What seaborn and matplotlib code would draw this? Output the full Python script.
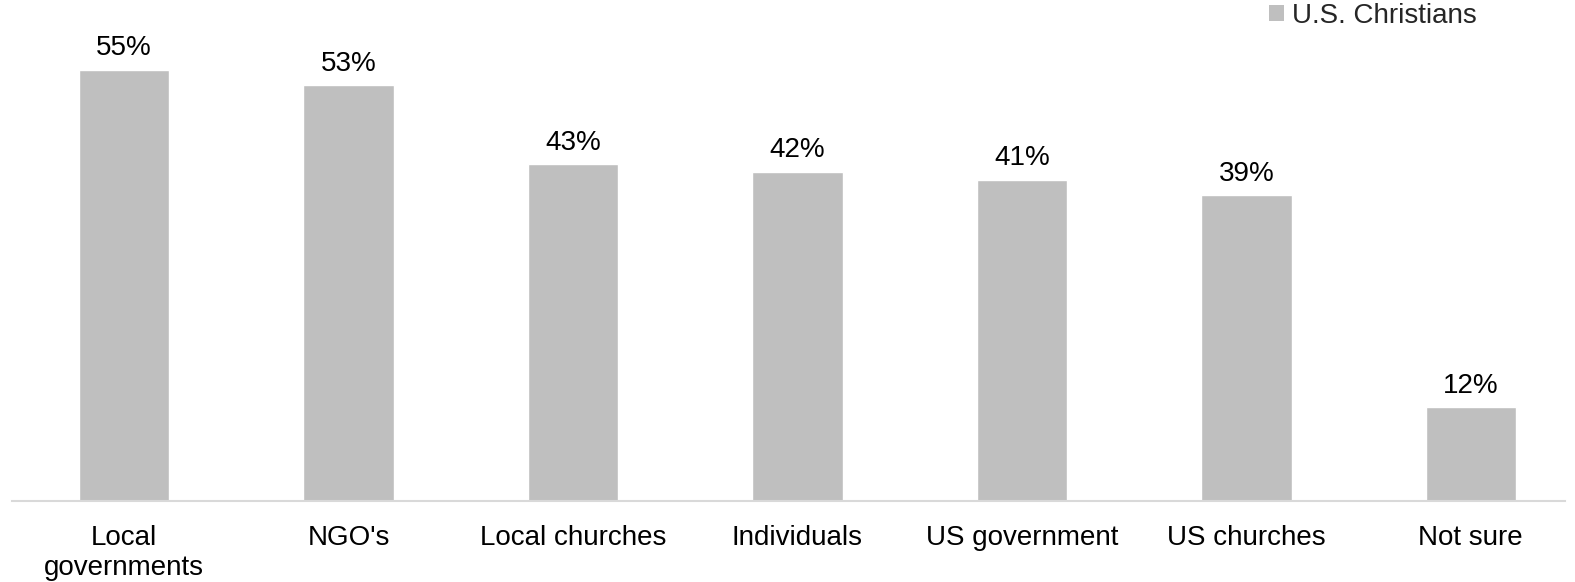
import pandas as pd
import seaborn as sns
import matplotlib.pyplot as plt
from matplotlib.patches import Patch

# Chart data
categories = ["Local\ngovernments", "NGO's", "Local churches", "Individuals",
              "US government", "US churches", "Not sure"]
values = [55, 53, 43, 42, 41, 39, 12]
series_name = "U.S. Christians"

df = pd.DataFrame({"category": categories, "value": values})

sns.set_theme(style="white")
plt.rcParams['font.family'] = ['Liberation Sans', 'DejaVu Sans']

fig = plt.figure(figsize=(15.75, 5.82), dpi=100)
ax = fig.add_axes([12 / 1575, 81 / 582, 1553 / 1575, 501 / 582])

bar_color = "#BFBFBF"
sns.barplot(data=df, x="category", y="value", color=bar_color, width=0.403,
            saturation=1, ax=ax)

ax.set_ylim(0, 63.9)
ax.set_xlim(-0.5, 6.42)

# Value labels above bars
for i, v in enumerate(values):
    ax.annotate(f"{v}%", (i, v), xytext=(0, 6), textcoords="offset points",
                ha="center", va="bottom", fontsize=20, color="#000000")

ax.set_xlabel("")
ax.set_ylabel("")
ax.set_yticks([])
ax.tick_params(axis="x", length=0, pad=17, labelsize=20, labelcolor="#000000")
for lbl in ax.get_xticklabels():
    lbl.set_verticalalignment("top")
    lbl.set_linespacing(1.2)

for side in ["top", "right", "left"]:
    ax.spines[side].set_visible(False)
ax.spines["bottom"].set_color("#D9D9D9")
ax.spines["bottom"].set_linewidth(1.5)

handle = Patch(facecolor=bar_color, edgecolor="none", label=series_name)
ax.legend(handles=[handle], loc="upper right",
          bbox_to_anchor=(1480 / 1575, 1.0), bbox_transform=fig.transFigure,
          frameon=False, fontsize=20, handlelength=0.55, handleheight=0.55,
          handletextpad=0.3, borderpad=0.1, borderaxespad=0.0)

fig.savefig("out.png", dpi=100)
plt.close(fig)
